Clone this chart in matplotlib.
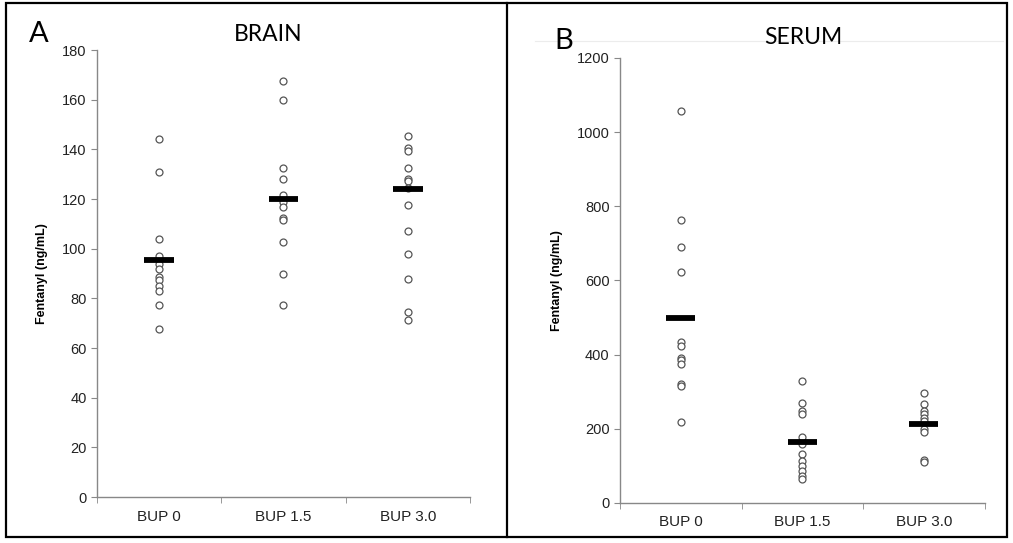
import matplotlib.pyplot as plt
from matplotlib.lines import Line2D
from matplotlib.patches import Rectangle

# group labels
groups = ['BUP 0', 'BUP 1.5', 'BUP 3.0']

# brain fentanyl, individual animals (ng/mL)
brain_bup0 = [144, 131, 104, 97, 94, 92, 88.5, 87.5, 85, 83, 77.5, 67.5]
brain_bup15 = [167.5, 160, 132.5, 128, 121.5, 119, 117, 112.3, 111.7, 102.7, 90, 77.5]
brain_bup30 = [145.5, 140.5, 139.2, 132.4, 128, 127.3, 124.5, 117.7, 107.3, 97.8, 87.7, 74.5, 71.3]
brain_center = [95.5, 120, 124.2]

# serum fentanyl, individual animals (ng/mL)
serum_bup0 = [1057, 764, 690, 624, 433, 422, 392, 386, 375, 322, 315, 218]
serum_bup15 = [329, 270, 249, 240, 178, 158, 133, 113, 100, 87, 74, 65]
serum_bup30 = [297, 266, 248, 241, 230, 221, 200, 191, 115, 110]
serum_center = [500, 165, 214]

brain_yticks = list(range(0, 181, 20))
serum_yticks = list(range(0, 1201, 200))

plt.rcParams['font.family'] = ['Liberation Sans', 'DejaVu Sans']

fig = plt.figure(figsize=(10.13, 5.43), dpi=100)

# panel frames
fig.patches.append(Rectangle((0.006, 0.011), 0.988, 0.983, transform=fig.transFigure,
                             fill=False, ec='black', lw=1.6))
fig.add_artist(Line2D([0.5, 0.5], [0.011, 0.994], transform=fig.transFigure,
                      color='black', lw=1.6))
fig.add_artist(Line2D([0.528, 0.99], [0.925, 0.925], transform=fig.transFigure,
                      color='#ececec', lw=0.8))


def strip_panel(ax, data, centers, ymax, yticks):
    for i, vals in enumerate(data):
        ax.plot([i] * len(vals), vals, 'o', ms=5, mfc='white', mec='#555555', mew=0.9,
                ls='none', zorder=3)
    ax.hlines(centers, [i - 0.12 for i in range(3)], [i + 0.12 for i in range(3)],
              colors='black', lw=4.2, zorder=4)
    ax.set_xlim(-0.5, 2.5)
    ax.set_ylim(0, ymax)
    ax.set_yticks(yticks)
    ax.set_xticks(range(3))
    ax.set_xticklabels(groups, fontsize=11, color='#222222')
    ax.set_xticks([-0.5, 0.5, 1.5, 2.5], minor=True)
    ax.tick_params(axis='x', which='major', length=0, pad=9)
    ax.tick_params(axis='x', which='minor', length=4, color='#888888', direction='out')
    ax.tick_params(axis='y', length=4, color='#888888', labelsize=10.5, labelcolor='#222222')
    for s in ['top', 'right']:
        ax.spines[s].set_visible(False)
    for s in ['left', 'bottom']:
        ax.spines[s].set_color('#888888')
        ax.spines[s].set_linewidth(1.0)
    ax.set_ylabel('Fentanyl (ng/mL)', fontsize=9, fontweight='bold', labelpad=10)


ax1 = fig.add_axes([0.0958, 0.0847, 0.368, 0.823])
strip_panel(ax1, [brain_bup0, brain_bup15, brain_bup30], brain_center, 180, brain_yticks)

ax2 = fig.add_axes([0.612, 0.0737, 0.360, 0.8195])
strip_panel(ax2, [serum_bup0, serum_bup15, serum_bup30], serum_center, 1200, serum_yticks)

# panel titles and letters
fig.text(268 / 1013, 1 - 35 / 543, 'BRAIN', fontsize=16.5, family='Lato', ha='center', va='center')
fig.text(803 / 1013, 1 - 38 / 543, 'SERUM', fontsize=16.5, family='Lato', ha='center', va='center')
fig.text(39 / 1013, 1 - 34 / 543, 'A', fontsize=21, family='Lato', ha='center', va='center')
fig.text(564 / 1013, 1 - 41 / 543, 'B', fontsize=21, family='Lato', ha='center', va='center')

fig.savefig('out.png', dpi=100)
